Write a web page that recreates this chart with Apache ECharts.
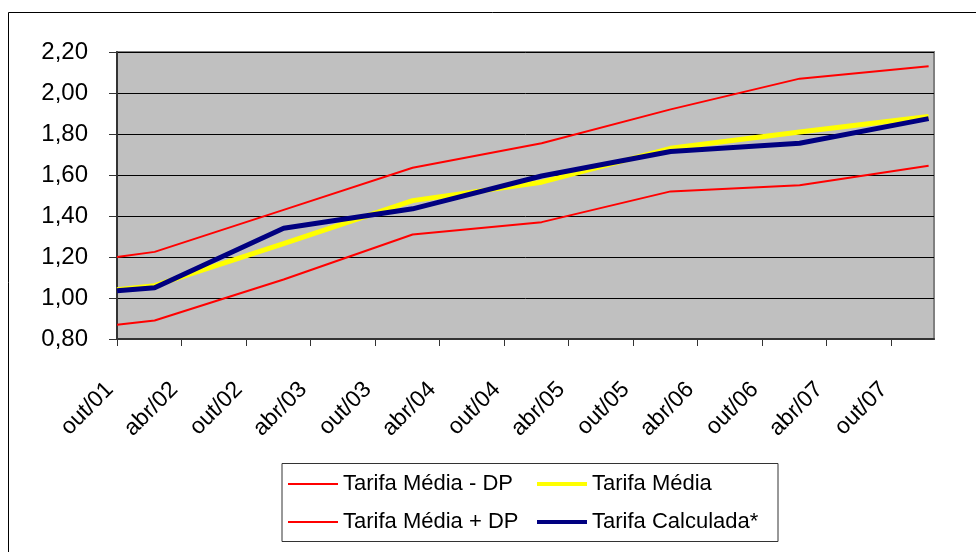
<!DOCTYPE html>
<html>
<head>
<meta charset="utf-8">
<script src="https://cdn.jsdelivr.net/npm/echarts@6/dist/echarts.min.js"></script>
<style>
html,body{margin:0;padding:0;background:#fff;}
#chart{width:976px;height:552px;}
</style>
</head>
<body>
<div id="chart"></div>
<script>
// Tick labels (every 6 months starting out/01)
var xTickLabels = ['out/01','abr/02','out/02','abr/03','out/03','abr/04','out/04','abr/05','out/05','abr/06','out/06','abr/07','out/07'];
// Observation positions, months since out/01
var months = [0, 3.5, 15.5, 27.5, 39.5, 51.5, 63.5, 75.5];
var mediaMenosDP = [0.87, 0.89, 1.09, 1.31, 1.37, 1.52, 1.55, 1.645];
var mediaMaisDP  = [1.20, 1.225, 1.43, 1.635, 1.755, 1.92, 2.07, 2.13];
var tarifaMedia  = [1.04, 1.06, 1.265, 1.475, 1.565, 1.73, 1.81, 1.885];
var tarifaCalc   = [1.035, 1.05, 1.34, 1.435, 1.595, 1.715, 1.755, 1.875];
var seriesNames = ['Tarifa Média - DP','Tarifa Média + DP','Tarifa Média','Tarifa Calculada*'];

function pairs(ys){ return ys.map(function(v,i){ return [months[i], v]; }); }
var tickVals = xTickLabels.map(function(_,i){ return i*6; });

var FONT = 'Liberation Sans, Arial, sans-serif';
var chart = echarts.init(document.getElementById('chart'), null, {renderer:'canvas'});
chart.setOption({
  animation:false,
  backgroundColor:'#ffffff',
  grid:{left:117, top:52, right:42, bottom:213, show:true, backgroundColor:'#C0C0C0', borderColor:'#808080', borderWidth:2},
  xAxis:{
    type:'value', min:0, max:76,
    axisLine:{show:true, lineStyle:{color:'#333', width:2}},
    axisTick:{show:true, customValues:tickVals, length:7, lineStyle:{color:'#333', width:1}},
    axisLabel:{customValues:tickVals, rotate:45, margin:40, padding:[0,10,0,0], fontFamily:FONT, fontSize:23, color:'#000',
      formatter:function(v){ var i=Math.round(v/6); return xTickLabels[i]||''; }},
    splitLine:{show:false}
  },
  yAxis:{
    type:'value', min:0.8, max:2.2, interval:0.2,
    axisLine:{show:true, lineStyle:{color:'#333', width:2}},
    axisTick:{show:true, length:8, lineStyle:{color:'#333'}},
    axisLabel:{margin:29, fontFamily:FONT, fontSize:24, color:'#000',
      formatter:function(v){ return v.toFixed(2).replace('.', ','); }},
    splitLine:{show:true, lineStyle:{color:'#000', width:1}}
  },
  legend:[
    {data:[seriesNames[0], seriesNames[1]], orient:'vertical', left:288, top:471, padding:0, itemWidth:50, itemHeight:14, itemGap:12,
     icon:'path://M0,6 L50,6 L50,8 L0,8 Z',
     textStyle:{fontFamily:FONT, fontSize:22, color:'#000', lineHeight:26}},
    {data:[seriesNames[2], seriesNames[3]], orient:'vertical', left:537, top:471, padding:0, itemWidth:50, itemHeight:14, itemGap:12,
     icon:'path://M0,5 L50,5 L50,9 L0,9 Z',
     textStyle:{fontFamily:FONT, fontSize:22, color:'#000', lineHeight:26}}
  ],
  graphic:[
    {type:'rect', shape:{x:8.5, y:12.5, width:990, height:560}, style:{fill:null, stroke:'#000', lineWidth:1}, silent:true, z:-1},
    {type:'rect', shape:{x:282, y:463.5, width:496, height:78}, style:{fill:null, stroke:'#333', lineWidth:1}, silent:true}
  ],
  series:[
    {name:seriesNames[0], type:'line', data:pairs(mediaMenosDP), symbol:'none', color:'#FF0000', lineStyle:{width:2, color:'#FF0000'}},
    {name:seriesNames[1], type:'line', data:pairs(mediaMaisDP), symbol:'none', color:'#FF0000', lineStyle:{width:2, color:'#FF0000'}},
    {name:seriesNames[2], type:'line', data:pairs(tarifaMedia), symbol:'none', color:'#FFFF00', lineStyle:{width:5, color:'#FFFF00'}},
    {name:seriesNames[3], type:'line', data:pairs(tarifaCalc), symbol:'none', color:'#000080', lineStyle:{width:5, color:'#000080'}}
  ]
});
</script>
</body>
</html>
